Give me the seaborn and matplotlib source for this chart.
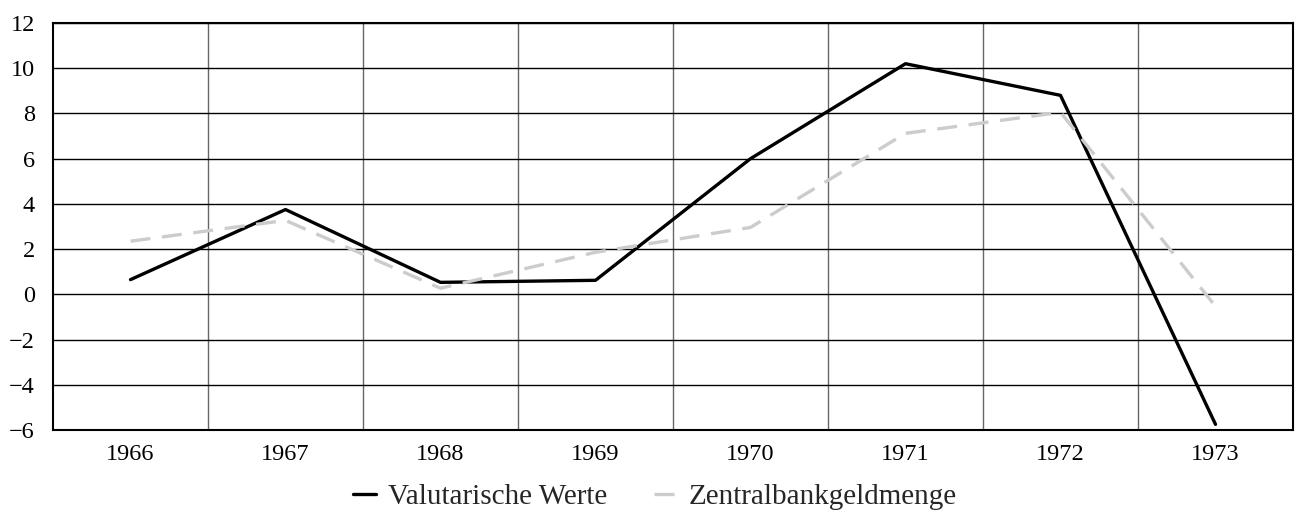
import matplotlib
matplotlib.use("Agg")
import matplotlib.pyplot as plt
import seaborn as sns
import pandas as pd
import numpy as np

years = [1966, 1967, 1968, 1969, 1970, 1971, 1972, 1973]
valutarische = [0.65, 3.75, 0.53, 0.62, 6.0, 10.2, 8.8, -5.75]
zentralbank = [2.35, 3.27, 0.27, 1.86, 2.96, 7.12, 8.05, -0.53]
series_names = ["Valutarische Werte", "Zentralbankgeldmenge"]
yticks = [-6, -4, -2, 0, 2, 4, 6, 8, 10, 12]

sns.set_theme(style="white")
plt.rcParams['font.family'] = ['Liberation Serif', 'DejaVu Serif']
plt.rcParams['axes.unicode_minus'] = True

df = pd.DataFrame({
    "Jahr": years * 2,
    "Wert": valutarische + zentralbank,
    "Serie": [series_names[0]] * len(years) + [series_names[1]] * len(years),
})

fig = plt.figure(figsize=(12.98, 5.11), dpi=100)
ax = fig.add_axes([53/1298, 1 - 430/511, (1293-53)/1298, (430-23)/511])

sns.lineplot(data=df, x="Jahr", y="Wert", hue="Serie", style="Serie",
             palette={series_names[0]: "black", series_names[1]: "#cccccc"},
             dashes={series_names[0]: "", series_names[1]: (6, 3.5)},
             linewidth=2.4, ax=ax, legend=True, zorder=3)

ax.set_xlim(years[0] - 0.5, years[-1] + 0.5)
ax.set_ylim(yticks[0], yticks[-1])
ax.set_xticks(years)
ax.set_xticklabels([str(y) for y in years])
ax.set_xticks([y + 0.5 for y in years[:-1]], minor=True)
ax.set_yticks(yticks)
ax.set_yticklabels([str(v).replace("-", "\u2212") for v in yticks])

ax.grid(True, axis="y", which="major", color="black", linewidth=1.0, zorder=0)
ax.grid(True, axis="x", which="minor", color="#666666", linewidth=1.0, zorder=0)
ax.grid(False, axis="x", which="major")
ax.tick_params(axis="both", which="both", length=0, labelsize=17.5, colors="black")
ax.tick_params(axis="x", pad=10)
ax.tick_params(axis="y", pad=13)
for s in ax.spines.values():
    s.set_color("black")
    s.set_linewidth(1.5)
ax.set_xlabel("")
ax.set_ylabel("")

handles, labels = ax.get_legend_handles_labels()
ax.get_legend().remove()
fig.legend(handles=handles, labels=labels, loc="center",
           bbox_to_anchor=(655/1298, 1 - 497/511), ncol=2, frameon=False,
           fontsize=21, handlelength=0.8, handletextpad=0.4, columnspacing=1.6,
           borderpad=0.0, borderaxespad=0.0)

fig.savefig("out.png", dpi=100)
